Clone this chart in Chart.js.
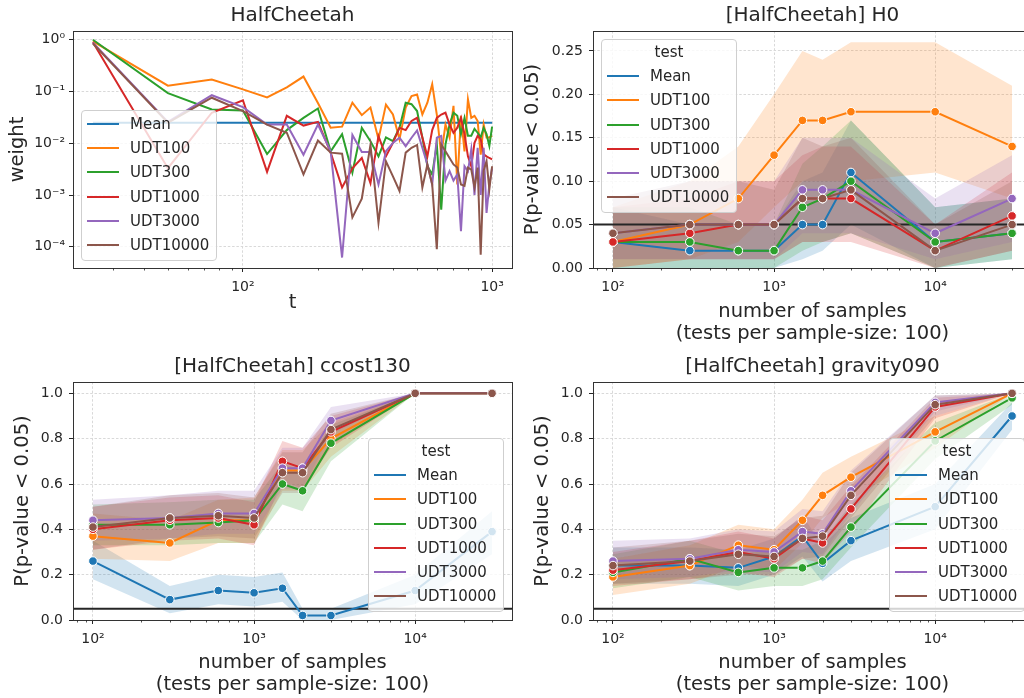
<!DOCTYPE html>
<html>
<head>
<meta charset="utf-8">
<script src="https://cdn.jsdelivr.net/npm/chart.js@4.4.1/dist/chart.umd.min.js"></script>
<style>
  html, body { margin: 0; padding: 0; background: #fff; width: 1024px; height: 698px; overflow: hidden; }
  canvas { position: absolute; }
  .legend { position: absolute; box-sizing: border-box; background: rgba(255,255,255,0.8);
            border: 1px solid #cfcfcf; border-radius: 4px; font: 15px "DejaVu Sans", sans-serif; color: #262626; }
  .legend .row { height: 24.2px; display: flex; align-items: center; white-space: nowrap; }
  .legend .sw { width: 32px; height: 2px; margin-left: 5px; margin-right: 11px; flex: none; }
  .legend .ttl { height: 24.2px; line-height: 24.2px; text-align: center; }
</style>
</head>
<body>
<canvas id="cWeight" width="520" height="345" style="left:0;top:0"></canvas>
<canvas id="cH0" width="520" height="345" style="left:520px;top:0"></canvas>
<canvas id="cCost" width="520" height="348" style="left:0;top:350px"></canvas>
<canvas id="cGrav" width="520" height="348" style="left:520px;top:350px"></canvas>
<script>
// series names / colours (shared by all panels)
const seriesNames = ['Mean', 'UDT100', 'UDT300', 'UDT1000', 'UDT3000', 'UDT10000'];
const colors = ['#1f77b4', '#ff7f0e', '#2ca02c', '#d62728', '#9467bd', '#8c564b'];

// panel 1: weight over t
const tSteps = [25, 50, 75, 100, 125, 150, 175, 200, 225, 250, 275, 300, 325, 350, 375, 400, 425, 450, 475, 500,
                525, 550, 575, 600, 625, 650, 675, 700, 725, 750, 775, 800, 825, 850, 875, 900, 925, 950, 975, 1000];
const wMean = [0.025, 0.025, 0.025, 0.025, 0.025, 0.025, 0.025, 0.025, 0.025, 0.025, 0.025, 0.025, 0.025, 0.025, 0.025, 0.025, 0.025, 0.025, 0.025, 0.025,
               0.025, 0.025, 0.025, 0.025, 0.025, 0.025, 0.025, 0.025, 0.025, 0.025, 0.025, 0.025, 0.025, 0.025, 0.025, 0.025, 0.025, 0.025, 0.025, 0.025];
const wUdt100 = [0.93, 0.13, 0.17, 0.11, 0.077, 0.12, 0.195, 0.06, 0.020, 0.021, 0.061, 0.035, 0.049, 0.012, 0.056, 0.036, 0.012, 0.049, 0.082, 0.088,
                 0.036, 0.061, 0.139, 0.036, 0.006, 0.023, 0.013, 0.053, 0.0016, 0.034, 0.007, 0.071, 0.031, 0.034, 0.027, 0.006, 0.023, 0.013, 0.013, 0.014];
const wUdt300 = [1.0, 0.093, 0.045, 0.043, 0.0062, 0.018, 0.031, 0.047, 0.007, 0.015, 0.0027, 0.020, 0.011, 0.0056, 0.013, 0.011, 0.020, 0.061, 0.057, 0.042,
                 0.013, 0.0036, 0.0025, 0.0095, 0.00052, 0.0095, 0.023, 0.039, 0.034, 0.015, 0.031, 0.014, 0.014, 0.019, 0.016, 0.013, 0.020, 0.015, 0.0089, 0.021];
const wUdt1000 = [0.9, 0.0033, 0.039, 0.068, 0.0028, 0.034, 0.022, 0.026, 0.0066, 0.0014, 0.0033, 0.0052, 0.0017, 0.0138, 0.0056, 0.0102, 0.020, 0.018, 0.027, 0.031,
                  0.013, 0.0056, 0.018, 0.031, 0.036, 0.039, 0.023, 0.016, 0.020, 0.031, 0.015, 0.0056, 0.0036, 0.0102, 0.014, 0.012, 0.0061, 0.0056, 0.0052, 0.0049];
const wUdt3000 = [0.88, 0.026, 0.085, 0.05, 0.023, 0.023, 0.006, 0.023, 0.007, 0.000062, 0.0145, 0.0068, 0.0068, 0.0016, 0.007, 0.0102, 0.0128, 0.0088, 0.0128, 0.0177,
                  0.0082, 0.0039, 0.0016, 0.0128, 0.0139, 0.0019, 0.0029, 0.0019, 0.0025, 0.0002, 0.0036, 0.0029, 0.0076, 0.001, 0.0082, 0.001, 0.0082, 0.00045, 0.0016, 0.0033];
const wUdt10000 = [0.85, 0.025, 0.076, 0.042, 0.023, 0.016, 0.0025, 0.0113, 0.0066, 0.0063, 0.00037, 0.00085, 0.0093, 0.00029, 0.0045, 0.0023, 0.0012, 0.0066, 0.0082, 0.0093,
                   0.0014, 0.0039, 0.0016, 0.00009, 0.0095, 0.007, 0.0052, 0.0039, 0.0034, 0.0016, 0.0015, 0.0034, 0.0031, 0.0014, 0.0034, 0.00007, 0.003, 0.0045, 0.0013, 0.0036];
const tMajor = [100, 1000];
const weightTicks = [0.0001, 0.001, 0.01, 0.1, 1];

// p-value panels: x = number of samples
const sampleSizes = [100, 300, 600, 1000, 1500, 2000, 3000, 10000, 30000];
const nMajor = [100, 1000, 10000];
const h0Ticks = [0, 0.05, 0.1, 0.15, 0.2, 0.25];
const pTicks = [0, 0.2, 0.4, 0.6, 0.8, 1.0];
const threshold = 0.05;

// [HalfCheetah] H0 (rows follow seriesNames)
const h0Val = [[0.03, 0.02, 0.02, 0.02, 0.05, 0.05, 0.11, 0.03, 0.04],
               [0.03, 0.05, 0.08, 0.13, 0.17, 0.17, 0.18, 0.18, 0.14],
               [0.03, 0.03, 0.02, 0.02, 0.07, 0.08, 0.10, 0.03, 0.04],
               [0.03, 0.04, 0.05, 0.05, 0.08, 0.08, 0.08, 0.02, 0.06],
               [0.04, 0.05, 0.05, 0.05, 0.09, 0.09, 0.09, 0.04, 0.08],
               [0.04, 0.05, 0.05, 0.05, 0.08, 0.08, 0.09, 0.02, 0.05]];
const h0Lo = [[0, 0, 0, 0, 0.01, 0.02, 0.05, 0, 0.01],
              [0, 0.01, 0.03, 0.07, 0.10, 0.10, 0.10, 0.11, 0.08],
              [0, 0, 0, 0, 0.02, 0.03, 0.04, 0, 0.01],
              [0, 0.01, 0.01, 0.01, 0.03, 0.03, 0.03, 0, 0.02],
              [0.01, 0.01, 0.01, 0.01, 0.04, 0.04, 0.04, 0.01, 0.03],
              [0.01, 0.01, 0.01, 0.01, 0.03, 0.03, 0.04, 0, 0.02]];
const h0Hi = [[0.07, 0.05, 0.05, 0.05, 0.10, 0.11, 0.17, 0.07, 0.08],
              [0.07, 0.10, 0.14, 0.20, 0.25, 0.24, 0.26, 0.26, 0.21],
              [0.07, 0.07, 0.05, 0.05, 0.12, 0.14, 0.17, 0.07, 0.08],
              [0.07, 0.08, 0.10, 0.10, 0.13, 0.14, 0.14, 0.05, 0.11],
              [0.08, 0.10, 0.10, 0.10, 0.15, 0.15, 0.15, 0.08, 0.13],
              [0.08, 0.10, 0.10, 0.09, 0.15, 0.14, 0.15, 0.05, 0.10]];

// [HalfCheetah] ccost130
const ccVal = [[0.26, 0.09, 0.13, 0.12, 0.14, 0.02, 0.02, 0.13, 0.39],
               [0.37, 0.34, 0.44, 0.44, 0.66, 0.66, 0.80, 1, 1],
               [0.42, 0.42, 0.43, 0.44, 0.60, 0.57, 0.78, 1, 1],
               [0.40, 0.44, 0.45, 0.42, 0.70, 0.67, 0.83, 1, 1],
               [0.44, 0.45, 0.47, 0.47, 0.67, 0.67, 0.88, 1, 1],
               [0.41, 0.45, 0.46, 0.45, 0.65, 0.65, 0.84, 1, 1]];
const ccLo = [[0.18, 0.03, 0.07, 0.06, 0.08, 0, 0, 0.07, 0.29],
              [0.27, 0.26, 0.34, 0.34, 0.57, 0.57, 0.72, 1, 1],
              [0.33, 0.33, 0.34, 0.34, 0.51, 0.48, 0.70, 1, 1],
              [0.31, 0.35, 0.36, 0.33, 0.61, 0.58, 0.76, 1, 1],
              [0.35, 0.36, 0.38, 0.38, 0.58, 0.58, 0.82, 1, 1],
              [0.31, 0.36, 0.37, 0.36, 0.56, 0.56, 0.77, 1, 1]];
const ccHi = [[0.35, 0.15, 0.20, 0.19, 0.21, 0.05, 0.05, 0.20, 0.48],
              [0.47, 0.44, 0.53, 0.54, 0.75, 0.75, 0.87, 1, 1],
              [0.51, 0.52, 0.53, 0.53, 0.69, 0.66, 0.86, 1, 1],
              [0.50, 0.54, 0.55, 0.52, 0.79, 0.76, 0.90, 1, 1],
              [0.53, 0.55, 0.57, 0.57, 0.76, 0.76, 0.94, 1, 1],
              [0.50, 0.55, 0.56, 0.54, 0.74, 0.74, 0.91, 1, 1]];

// [HalfCheetah] gravity090
const gVal = [[0.24, 0.24, 0.23, 0.28, 0.37, 0.25, 0.35, 0.50, 0.90],
              [0.19, 0.24, 0.33, 0.31, 0.44, 0.55, 0.63, 0.83, 1.0],
              [0.21, 0.27, 0.21, 0.23, 0.23, 0.26, 0.41, 0.79, 0.98],
              [0.22, 0.26, 0.30, 0.27, 0.36, 0.34, 0.49, 0.94, 1.0],
              [0.26, 0.27, 0.31, 0.30, 0.39, 0.38, 0.57, 0.96, 1.0],
              [0.24, 0.26, 0.29, 0.28, 0.36, 0.37, 0.55, 0.95, 1.0]];
const gLo = [[0.16, 0.16, 0.15, 0.20, 0.28, 0.17, 0.26, 0.40, 0.84],
             [0.11, 0.16, 0.24, 0.22, 0.34, 0.45, 0.53, 0.76, 1.0],
             [0.14, 0.19, 0.13, 0.15, 0.15, 0.18, 0.32, 0.71, 0.95],
             [0.15, 0.18, 0.21, 0.19, 0.27, 0.25, 0.39, 0.89, 1.0],
             [0.18, 0.19, 0.22, 0.21, 0.30, 0.29, 0.47, 0.92, 1.0],
             [0.16, 0.18, 0.20, 0.20, 0.27, 0.28, 0.45, 0.90, 1.0]];
const gHi = [[0.32, 0.32, 0.31, 0.36, 0.46, 0.33, 0.45, 0.60, 0.96],
             [0.27, 0.33, 0.42, 0.40, 0.53, 0.65, 0.72, 0.90, 1.0],
             [0.29, 0.35, 0.29, 0.31, 0.31, 0.35, 0.51, 0.87, 1.0],
             [0.30, 0.35, 0.39, 0.36, 0.46, 0.44, 0.59, 0.98, 1.0],
             [0.35, 0.36, 0.40, 0.39, 0.49, 0.48, 0.66, 0.99, 1.0],
             [0.32, 0.35, 0.38, 0.37, 0.45, 0.46, 0.65, 0.99, 1.0]];

const FONT = '"DejaVu Sans", sans-serif';
const INK = '#262626';
const GRID = '#d9d9d9';
const NONE = 'rgba(0,0,0,0)';

function rgba(hex, a) {
  const n = parseInt(hex.slice(1), 16);
  return `rgba(${n >> 16},${(n >> 8) & 255},${n & 255},${a})`;
}

const supMap = {'-': '⁻', '0': '⁰', '1': '¹', '2': '²', '3': '³', '4': '⁴', '5': '⁵'};
function powLabel(v) {
  const e = Math.round(Math.log10(v));
  return '10' + String(e).split('').map(c => supMap[c]).join('');
}
function isPow10(v) {
  const l = Math.log10(v);
  return Math.abs(l - Math.round(l)) < 1e-9;
}
// majors plus the 2..9 minor ticks between them, clipped to [lo, hi]
function withMinors(majors, lo, hi) {
  const out = [];
  const d0 = Math.floor(Math.log10(lo)), d1 = Math.ceil(Math.log10(hi));
  for (let d = d0; d <= d1; d++) {
    for (let m = 1; m <= 9; m++) {
      const v = m * Math.pow(10, d);
      if (v >= lo && v <= hi) out.push(v);
    }
  }
  return out;
}

function axis(o) {
  const major = o.isMajor || (() => true);
  // per-tick styles, indexed like o.ticks (minor tick marks are drawn by panelDeco)
  const gridColors = o.ticks.map(v => major(v) ? GRID : NONE);
  const tickColors = o.ticks.map(v => major(v) ? INK : NONE);
  return {
    type: o.type,
    position: o.position,
    min: o.min,
    max: o.max,
    afterBuildTicks: s => { s.ticks = o.ticks.map(v => ({ value: v })); },
    afterFit: s => { if (o.position === 'left') s.width = o.size; else s.height = o.size; },
    ticks: {
      autoSkip: false, maxRotation: 0, minRotation: 0,
      padding: o.tickPad, color: INK,
      font: { family: FONT, size: 14 },
      callback: v => major(v) ? o.fmt(v) : ''
    },
    grid: {
      color: gridColors,
      lineWidth: 1,
      tickLength: 4,
      tickColor: tickColors,
      tickWidth: 1
    },
    border: { display: false, dash: [2.5, 1.8] },
    title: {
      display: true, text: o.title, color: INK,
      font: { family: FONT, size: 19.5, lineHeight: o.lh || 1.2 },
      padding: o.titlePad
    }
  };
}

// title above the axes, full frame, short minor ticks, optional threshold line
const panelDeco = {
  id: 'panelDeco',
  beforeDatasetsDraw(chart, args, opts) {
    if (opts.hline == null) return;
    const { ctx, chartArea: a, scales: { y } } = chart;
    const py = y.getPixelForValue(opts.hline);
    ctx.save();
    ctx.strokeStyle = INK;
    ctx.lineWidth = 2;
    ctx.beginPath();
    ctx.moveTo(a.left, py);
    ctx.lineTo(a.right, py);
    ctx.stroke();
    ctx.restore();
  },
  afterDraw(chart, args, opts) {
    const { ctx, chartArea: a, scales: { x } } = chart;
    ctx.save();
    ctx.strokeStyle = '#333';
    ctx.lineWidth = 1;
    ctx.strokeRect(Math.round(a.left) + 0.5, Math.round(a.top) + 0.5, Math.round(a.right - a.left), Math.round(a.bottom - a.top));
    ctx.beginPath();
    x.ticks.forEach(t => {
      if (isPow10(t.value)) return;
      const px = Math.round(x.getPixelForValue(t.value)) + 0.5;
      ctx.moveTo(px, a.bottom);
      ctx.lineTo(px, a.bottom + 2.5);
    });
    ctx.strokeStyle = INK;
    ctx.lineWidth = 0.8;
    ctx.stroke();
    ctx.fillStyle = INK;
    ctx.font = '20px ' + FONT;
    ctx.textAlign = 'center';
    ctx.textBaseline = 'middle';
    ctx.fillText(opts.text, (a.left + a.right) / 2, a.top - 15.5);
    ctx.restore();
  }
};

function makeChart(id, datasets, x, y, padding, text, hline) {
  return new Chart(document.getElementById(id), {
    type: 'line',
    data: { datasets },
    options: {
      responsive: false,
      animation: false,
      events: [],
      layout: { padding },
      elements: { line: { tension: 0 } },
      plugins: {
        legend: { display: false },
        tooltip: { enabled: false },
        filler: { drawTime: 'beforeDatasetsDraw', propagate: false },
        panelDeco: { text, hline }
      },
      scales: { x, y }
    },
    plugins: [panelDeco]
  });
}

function pDatasets(vals, lo, hi) {
  const out = [];
  seriesNames.forEach((name, k) => {
    const order = seriesNames.length - k;
    const pts = arr => sampleSizes.map((n, i) => ({ x: n, y: arr[i] }));
    out.push({ label: name + ' lo', data: pts(lo[k]), borderWidth: 0, pointRadius: 0, fill: false, order });
    out.push({ label: name + ' hi', data: pts(hi[k]), borderWidth: 0, pointRadius: 0, fill: '-1',
               backgroundColor: rgba(colors[k], 0.2), order });
    out.push({ label: name, data: pts(vals[k]), borderColor: colors[k], backgroundColor: colors[k],
               borderWidth: 2, pointRadius: 4.3, pointBorderColor: '#ffffff', pointBorderWidth: 1,
               pointBackgroundColor: colors[k], fill: false, order });
  });
  return out;
}

function htmlLegend(left, top, width, withTitle) {
  const box = document.createElement('div');
  box.className = 'legend';
  box.style.left = left + 'px';
  box.style.top = top + 'px';
  box.style.width = width + 'px';
  box.style.padding = withTitle ? '0 0 3px 0' : '1px 0 3px 0';
  if (withTitle) {
    const t = document.createElement('div');
    t.className = 'ttl';
    t.textContent = 'test';
    box.appendChild(t);
  }
  seriesNames.forEach((name, k) => {
    const row = document.createElement('div');
    row.className = 'row';
    const sw = document.createElement('span');
    sw.className = 'sw';
    sw.style.background = colors[k];
    const tx = document.createElement('span');
    tx.textContent = name;
    row.appendChild(sw);
    row.appendChild(tx);
    box.appendChild(row);
  });
  document.body.appendChild(box);
}

// ---- weight panel
const weightSeries = [wMean, wUdt100, wUdt300, wUdt1000, wUdt3000, wUdt10000];
const weightSets = weightSeries.map((arr, k) => ({
  label: seriesNames[k],
  data: tSteps.map((t, i) => ({ x: t, y: arr[i] })),
  borderColor: colors[k], backgroundColor: colors[k],
  borderWidth: 2, pointRadius: 0, fill: false,
  order: seriesNames.length - k
}));
makeChart('cWeight', weightSets,
  axis({ type: 'logarithmic', position: 'bottom', min: 20.8, max: 1202,
         ticks: withMinors(tMajor, 30, 1000), isMajor: isPow10, fmt: powLabel,
         size: 77, tickPad: 7, title: 't', titlePad: { top: 0, bottom: 30 } }),
  axis({ type: 'logarithmic', position: 'left', min: 3.89e-5, max: 1.48,
         ticks: weightTicks, isMajor: isPow10, fmt: powLabel,
         size: 73, tickPad: 4, title: 'weight', titlePad: { top: 6, bottom: 0 } }),
  { left: 0, top: 31, right: 8, bottom: 0 }, 'HalfCheetah', null);
htmlLegend(81, 110, 136, false);

// ---- p-value panels
const nTicks = withMinors(nMajor, 80, 30000);
const xSamples = (size, pb) => axis({
  type: 'logarithmic', position: 'bottom', min: 75.2, max: 39900,
  ticks: nTicks, isMajor: isPow10, fmt: powLabel,
  size, tickPad: 7, lh: 1.12,
  title: ['number of samples', '(tests per sample-size: 100)'], titlePad: { top: 0, bottom: pb }
});
const yP = (ticks, max, digits, pt) => axis({
  type: 'linear', position: 'left', min: 0, max,
  ticks, fmt: v => v.toFixed(digits),
  size: 73, tickPad: 6, title: 'P(p-value < 0.05)', titlePad: { top: pt, bottom: 0 }
});

makeChart('cH0', pDatasets(h0Val, h0Lo, h0Hi), xSamples(77, 0.6), yP(h0Ticks, 0.273, 2, 1.6),
  { left: 0, top: 31, right: 8, bottom: 0 }, '[HalfCheetah] H0', threshold);
htmlLegend(601, 39, 136, true);

makeChart('cCost', pDatasets(ccVal, ccLo, ccHi), xSamples(78, 2.1), yP(pTicks, 1.05, 1, 11.6),
  { left: 0, top: 32, right: 8, bottom: 0 }, '[HalfCheetah] ccost130', threshold);
htmlLegend(368, 438, 136, true);

makeChart('cGrav', pDatasets(gVal, gLo, gHi), xSamples(78, 2.1), yP(pTicks, 1.05, 1, 11.6),
  { left: 0, top: 32, right: 8, bottom: 0 }, '[HalfCheetah] gravity090', threshold);
htmlLegend(889, 438, 136, true);
</script>
</body>
</html>
